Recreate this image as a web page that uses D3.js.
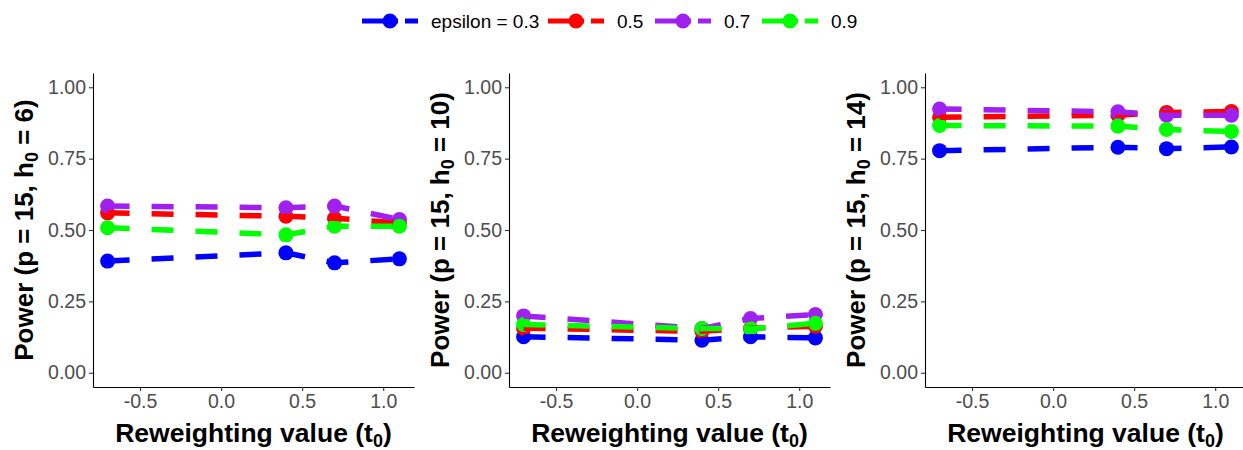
<!DOCTYPE html>
<html>
<head>
<meta charset="utf-8">
<script src="https://cdn.jsdelivr.net/npm/d3@7"></script>
<style>
  body { margin: 0; background: #fff; }
  svg { display: block; font-family: "Liberation Sans", Arial, Helvetica, sans-serif; }
</style>
</head>
<body>
<svg id="chart" width="1243" height="450"></svg>
<script>
// ---- data ----
const t0Values = [-0.7, 0.4, 0.7, 1.1];
const epsilonLabels = ["epsilon = 0.3", "0.5", "0.7", "0.9"];
const seriesColors = ["#0000FF", "#FF0000", "#A020F0", "#00FF00"];
const panelH0 = ["6", "10", "14"];
const xTicks = [-0.5, 0.0, 0.5, 1.0];
const yTicks = [0, 0.25, 0.5, 0.75, 1.0];

// power by epsilon for h0 = 6
const h6_eps03 = [0.391, 0.420, 0.385, 0.399];
const h6_eps05 = [0.560, 0.548, 0.541, 0.525];
const h6_eps07 = [0.584, 0.578, 0.584, 0.537];
const h6_eps09 = [0.508, 0.483, 0.513, 0.513];
// h0 = 10
const h10_eps03 = [0.126, 0.114, 0.126, 0.122];
const h10_eps05 = [0.156, 0.145, 0.156, 0.163];
const h10_eps07 = [0.199, 0.155, 0.190, 0.204];
const h10_eps09 = [0.169, 0.155, 0.154, 0.173];
// h0 = 14
const h14_eps03 = [0.778, 0.790, 0.785, 0.791];
const h14_eps05 = [0.895, 0.902, 0.912, 0.915];
const h14_eps07 = [0.924, 0.914, 0.902, 0.902];
const h14_eps09 = [0.866, 0.864, 0.852, 0.845];

const panels = [
  [h6_eps03, h6_eps05, h6_eps07, h6_eps09],
  [h10_eps03, h10_eps05, h10_eps07, h10_eps09],
  [h14_eps03, h14_eps05, h14_eps07, h14_eps09]
];

// ---- layout ----
const svg = d3.select("#chart");
svg.append("rect").attr("width", 1243).attr("height", 450).attr("fill", "#fff");

const panelLefts = [93, 509, 925];
const panelW = 321, plotTop = 73, plotBottom = 387;
const lineW = 5.5, dash = "22 22", ptR = 7.5;

panels.forEach((series, pi) => {
  const left = panelLefts[pi];
  const x = d3.scaleLinear().domain([-0.79, 1.19]).range([left, left + panelW]);
  const y = d3.scaleLinear().domain([-0.05, 1.05]).range([plotBottom, plotTop]);
  const g = svg.append("g");

  // axes
  const yAxis = g.append("g").attr("transform", `translate(${left},0)`)
    .call(d3.axisLeft(y).tickValues(yTicks).tickFormat(d => d.toFixed(2)).tickSize(4).tickPadding(3).tickSizeOuter(0));
  const xAxis = g.append("g").attr("transform", `translate(0,${plotBottom})`)
    .call(d3.axisBottom(x).tickValues(xTicks).tickFormat(d => d.toFixed(1)).tickSize(4).tickPadding(3).tickSizeOuter(0));
  [xAxis, yAxis].forEach(a => {
    a.select(".domain").attr("stroke", "#000").attr("stroke-width", 1.1);
    a.selectAll(".tick line").attr("stroke", "#333").attr("stroke-width", 1.1);
    a.selectAll(".tick text").attr("fill", "#4D4D4D").attr("font-size", 19.5)
      .attr("font-family", "Liberation Sans, Arial, sans-serif");
  });

  // points first, then lines
  const line = d3.line().x((d, i) => x(t0Values[i])).y(d => y(d));
  series.forEach((vals, si) => {
    g.append("g").selectAll("circle").data(vals).join("circle")
      .attr("cx", (d, i) => x(t0Values[i])).attr("cy", d => y(d))
      .attr("r", ptR).attr("fill", seriesColors[si]);
  });
  series.forEach((vals, si) => {
    g.append("path").datum(vals).attr("d", line)
      .attr("fill", "none").attr("stroke", seriesColors[si])
      .attr("stroke-width", lineW).attr("stroke-dasharray", dash);
  });

  // y title
  const yt = g.append("text")
    .attr("transform", `translate(${left - 60},${(plotTop + plotBottom) / 2}) rotate(-90)`)
    .attr("text-anchor", "middle").attr("font-size", 26).attr("font-weight", "bold").attr("fill", "#000");
  yt.append("tspan").text("Power (p = 15, h");
  yt.append("tspan").attr("font-size", 18).attr("dy", 5).text("0");
  yt.append("tspan").attr("dy", -5).text(" = " + panelH0[pi] + ")");

  // x title
  const xt = g.append("text")
    .attr("x", left + panelW / 2).attr("y", 442)
    .attr("text-anchor", "middle").attr("font-size", 26.5).attr("font-weight", "bold").attr("fill", "#000");
  xt.append("tspan").text("Reweighting value (t");
  xt.append("tspan").attr("font-size", 18).attr("dy", 5).text("0");
  xt.append("tspan").attr("dy", -5).text(")");
});

// ---- legend ----
const legend = svg.append("g");
const keyStarts = [362, 548, 655, 762];
const ly = 21;
epsilonLabels.forEach((lab, i) => {
  const lx = keyStarts[i];
  const it = legend.append("g");
  it.append("line").attr("x1", lx).attr("x2", lx + 56).attr("y1", ly).attr("y2", ly)
    .attr("stroke", seriesColors[i]).attr("stroke-width", 5).attr("stroke-dasharray", "36 7");
  it.append("circle").attr("cx", lx + 28).attr("cy", ly).attr("r", 7.5).attr("fill", seriesColors[i]);
  it.append("text").attr("x", lx + 69).attr("y", 27.8).attr("font-size", 19).attr("fill", "#000").text(lab);
});
</script>
</body>
</html>
